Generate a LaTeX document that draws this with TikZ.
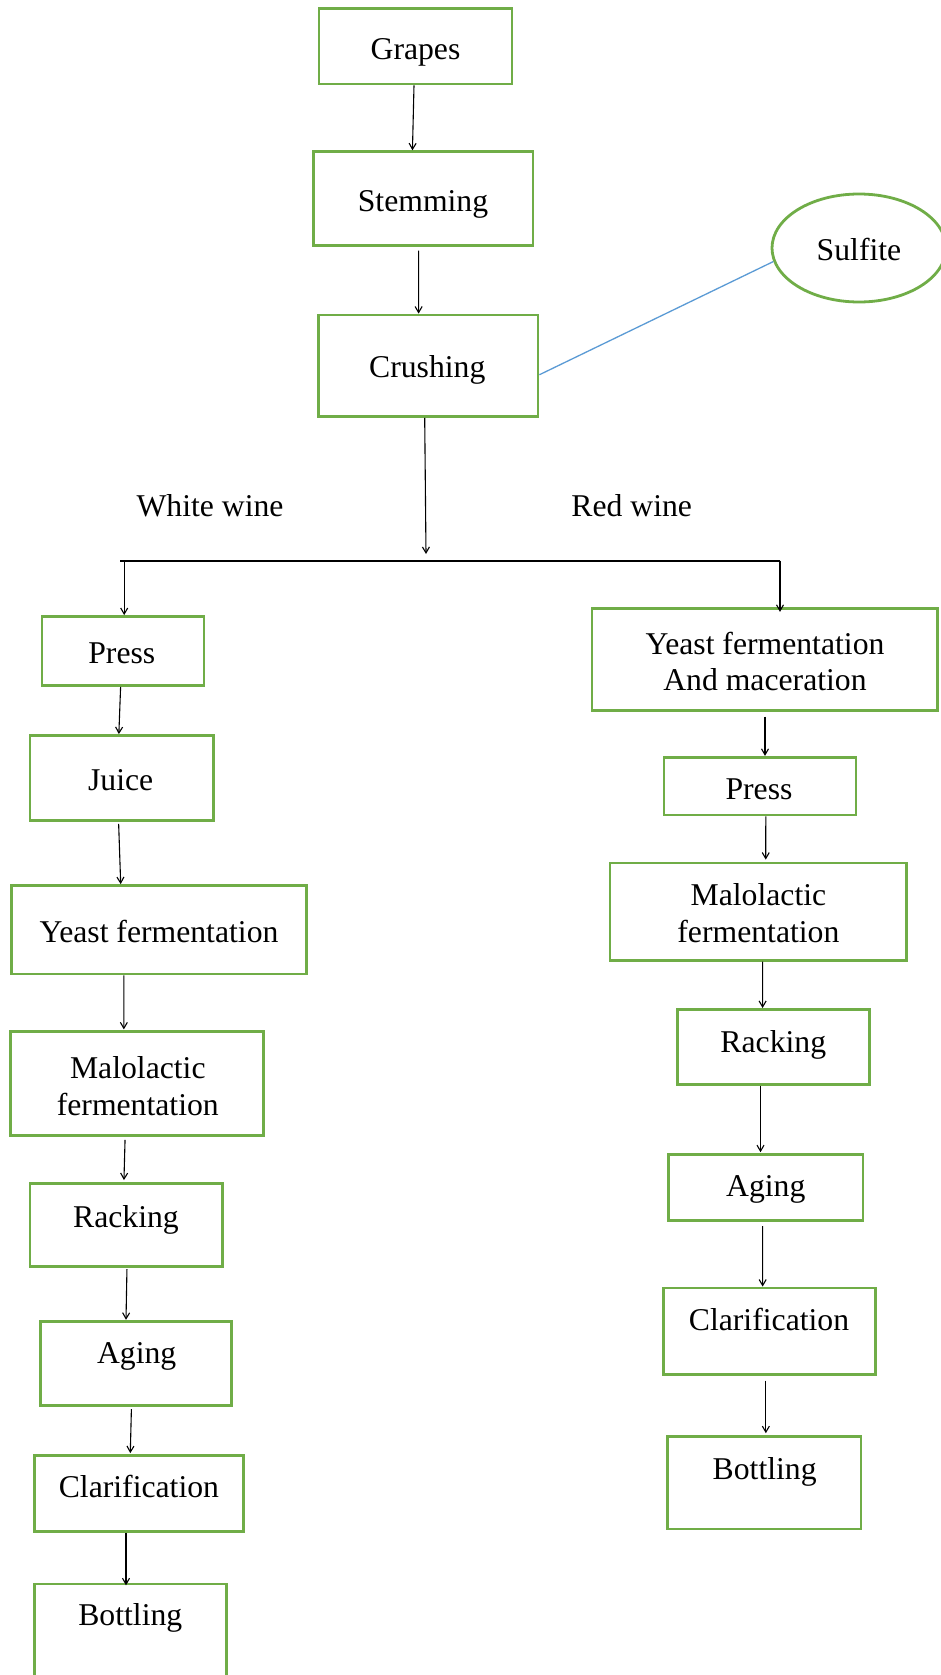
\documentclass[tikz,border=0pt]{standalone}
\usepackage{fontspec}
\setmainfont{Liberation Serif}
\usetikzlibrary{arrows.meta,calc,shapes.geometric}
\definecolor{boxgreen}{HTML}{70AD47}
\definecolor{linkblue}{HTML}{5B9BD5}
\begin{document}
\begin{tikzpicture}[x=1pt,y=-1pt,
 gbox/.style={draw=boxgreen,line width=2.8pt,inner sep=0pt,rectangle},
 gell/.style={draw=boxgreen,line width=2.8pt,inner sep=0pt,ellipse},
 txt/.style={font=\fontsize{31.7}{36.5}\selectfont,inner sep=0pt,align=center},
 arr/.style={draw=black,line width=1.1pt,-{Straight Barb[length=6pt,width=7pt]}},
 bar/.style={draw=black,line width=2.2pt},
 link/.style={draw=linkblue,line width=1.3pt},
]
\clip (0,0) rectangle (941,1675);
\fill[white] (0,0) rectangle (941,1675);

% top chain
\node[gbox,minimum width=193pt,minimum height=75.5pt] (grapes) at (415.5,46.25) {};
\node[txt] (tgrapes) at (415.5,52.3) {Grapes};
\node[gbox,minimum width=219.5pt,minimum height=93.8pt] (stemming) at (423.25,198.6) {};
\node[txt] (tstemming) at (423,204) {Stemming};
\node[gbox,minimum width=219.6pt,minimum height=101.5pt] (crushing) at (428.2,365.75) {};
\node[txt] (tcrushing) at (427.3,370.3) {Crushing};
\node[gell,minimum width=174pt,minimum height=108pt] (sulfite) at (859,248) {};
\node[txt] (tsulfite) at (859,249) {Sulfite};

\node[txt] (wlabel) at (210,506) {White wine};
\node[txt] (rlabel) at (631.7,506) {Red wine};

% white wine column
\node[gbox,minimum width=162pt,minimum height=69pt] (pressL) at (123,651) {};
\node[txt] (tpressL) at (121.8,653.5) {Press};
\node[gbox,minimum width=183.5pt,minimum height=85pt] (juice) at (121.75,778) {};
\node[txt] (tjuice) at (120.7,779.7) {Juice};
\node[gbox,minimum width=294.8pt,minimum height=88.5pt] (yeastL) at (159.1,929.75) {};
\node[txt] (tyeastL) at (159,931.4) {Yeast fermentation};
\node[gbox,minimum width=253.1pt,minimum height=103.6pt] (maloL) at (137.25,1083.6) {};
\node[txt] (tmaloL) at (137.8,1086) {Malolactic\\fermentation};
\node[gbox,minimum width=192.3pt,minimum height=83.3pt] (rackL) at (126.05,1225.15) {};
\node[txt] (trackL) at (126,1219.8) {Racking};
\node[gbox,minimum width=191.2pt,minimum height=84.4pt] (agingL) at (136.2,1363.4) {};
\node[txt] (tagingL) at (136.7,1356.5) {Aging};
\node[gbox,minimum width=209.6pt,minimum height=76pt] (clarL) at (139,1493.5) {};
\node[txt] (tclarL) at (138.9,1486.7) {Clarification};
\node[gbox,minimum width=192.6pt,minimum height=106pt] (bottL) at (130.5,1637) {};
\node[txt] (tbottL) at (130.3,1617.8) {Bottling};

% red wine column
\node[gbox,minimum width=345.6pt,minimum height=102.4pt] (yeastR) at (764.8,659.5) {};
\node[txt] (tyeastR) at (765,661.6) {Yeast fermentation\\And maceration};
\node[gbox,minimum width=192pt,minimum height=57.7pt] (pressR) at (760,786.15) {};
\node[txt] (tpressR) at (759,789.3) {Press};
\node[gbox,minimum width=296.9pt,minimum height=97.2pt] (maloR) at (758.35,911.6) {};
\node[txt] (tmaloR) at (758.4,913) {Malolactic\\fermentation};
\node[gbox,minimum width=192.2pt,minimum height=74.7pt] (rackR) at (773.3,1046.75) {};
\node[txt] (trackR) at (773.3,1044.6) {Racking};
\node[gbox,minimum width=194.4pt,minimum height=66.2pt] (agingR) at (765.8,1187.7) {};
\node[txt] (tagingR) at (765.8,1189.9) {Aging};
\node[gbox,minimum width=212.5pt,minimum height=86.6pt] (clarR) at (769.55,1331.3) {};
\node[txt] (tclarR) at (769,1319.5) {Clarification};
\node[gbox,minimum width=193.3pt,minimum height=92.4pt] (bottR) at (764.35,1482.8) {};
\node[txt] (tbottR) at (764.7,1472.3) {Bottling};

% connectors, top
\draw[arr] ([xshift=-1.5pt]grapes.south) -- ([xshift=-10.8pt]stemming.north);
\draw[arr] ([xshift=-4.6pt,yshift=-3.8pt]stemming.south) -- ([xshift=-9.6pt]crushing.north);
\draw[link] (sulfite.189) -- ([yshift=-9pt]crushing.east);

\coordinate (hm) at (426,554);
\coordinate (hl) at (120,560.7);
\coordinate (hr) at (780,560.7);
\draw[arr] ([xshift=-3.5pt]crushing.south) -- (hm);
\draw[bar] (hl) -- (hr);
\draw[arr] ([xshift=4.2pt]hl) -- ([xshift=1.2pt]pressL.north);
\draw[arr] (hr) -- ([xshift=15.2pt,yshift=-5pt]yeastR.north);

% white wine arrows
\draw[arr] ([xshift=-2.4pt]pressL.south) -- ([xshift=-2.9pt]juice.north);
\draw[arr] ([xshift=-3.1pt,yshift=-2pt]juice.south) -- ([xshift=-38.4pt]yeastL.north);
\draw[arr] ([xshift=-35.2pt]yeastL.south) -- ([xshift=-13.4pt,yshift=1pt]maloL.north);
\draw[arr] ([xshift=-12.2pt,yshift=-3pt]maloL.south) -- ([xshift=-2.1pt,yshift=2pt]rackL.north);
\draw[arr] ([xshift=0.9pt,yshift=-1pt]rackL.south) -- ([xshift=-10.2pt]agingL.north);
\draw[arr] ([xshift=-4.8pt,yshift=-2pt]agingL.south) -- ([xshift=-8.7pt,yshift=1pt]clarL.north);
\draw[arr] ([xshift=-13pt]clarL.south) -- ([xshift=-4.5pt,yshift=-2.7pt]bottL.north);

% red wine arrows
\draw[arr] ([xshift=0.2pt,yshift=-4.6pt]yeastR.south) -- ([xshift=5pt]pressR.north);
\draw[arr] ([xshift=5.8pt]pressR.south) -- ([xshift=7.4pt,yshift=2pt]maloR.north);
\draw[arr] ([xshift=4.2pt]maloR.south) -- ([xshift=-10.7pt]rackR.north);
\draw[arr] ([xshift=-12.8pt]rackR.south) -- ([xshift=-5.3pt,yshift=1pt]agingR.north);
\draw[arr] ([xshift=-3.2pt,yshift=-4pt]agingR.south) -- ([xshift=-6.9pt]clarR.north);
\draw[arr] ([xshift=-3.7pt,yshift=-4.5pt]clarR.south) -- ([xshift=1.5pt,yshift=2pt]bottR.north);
\end{tikzpicture}
\end{document}
